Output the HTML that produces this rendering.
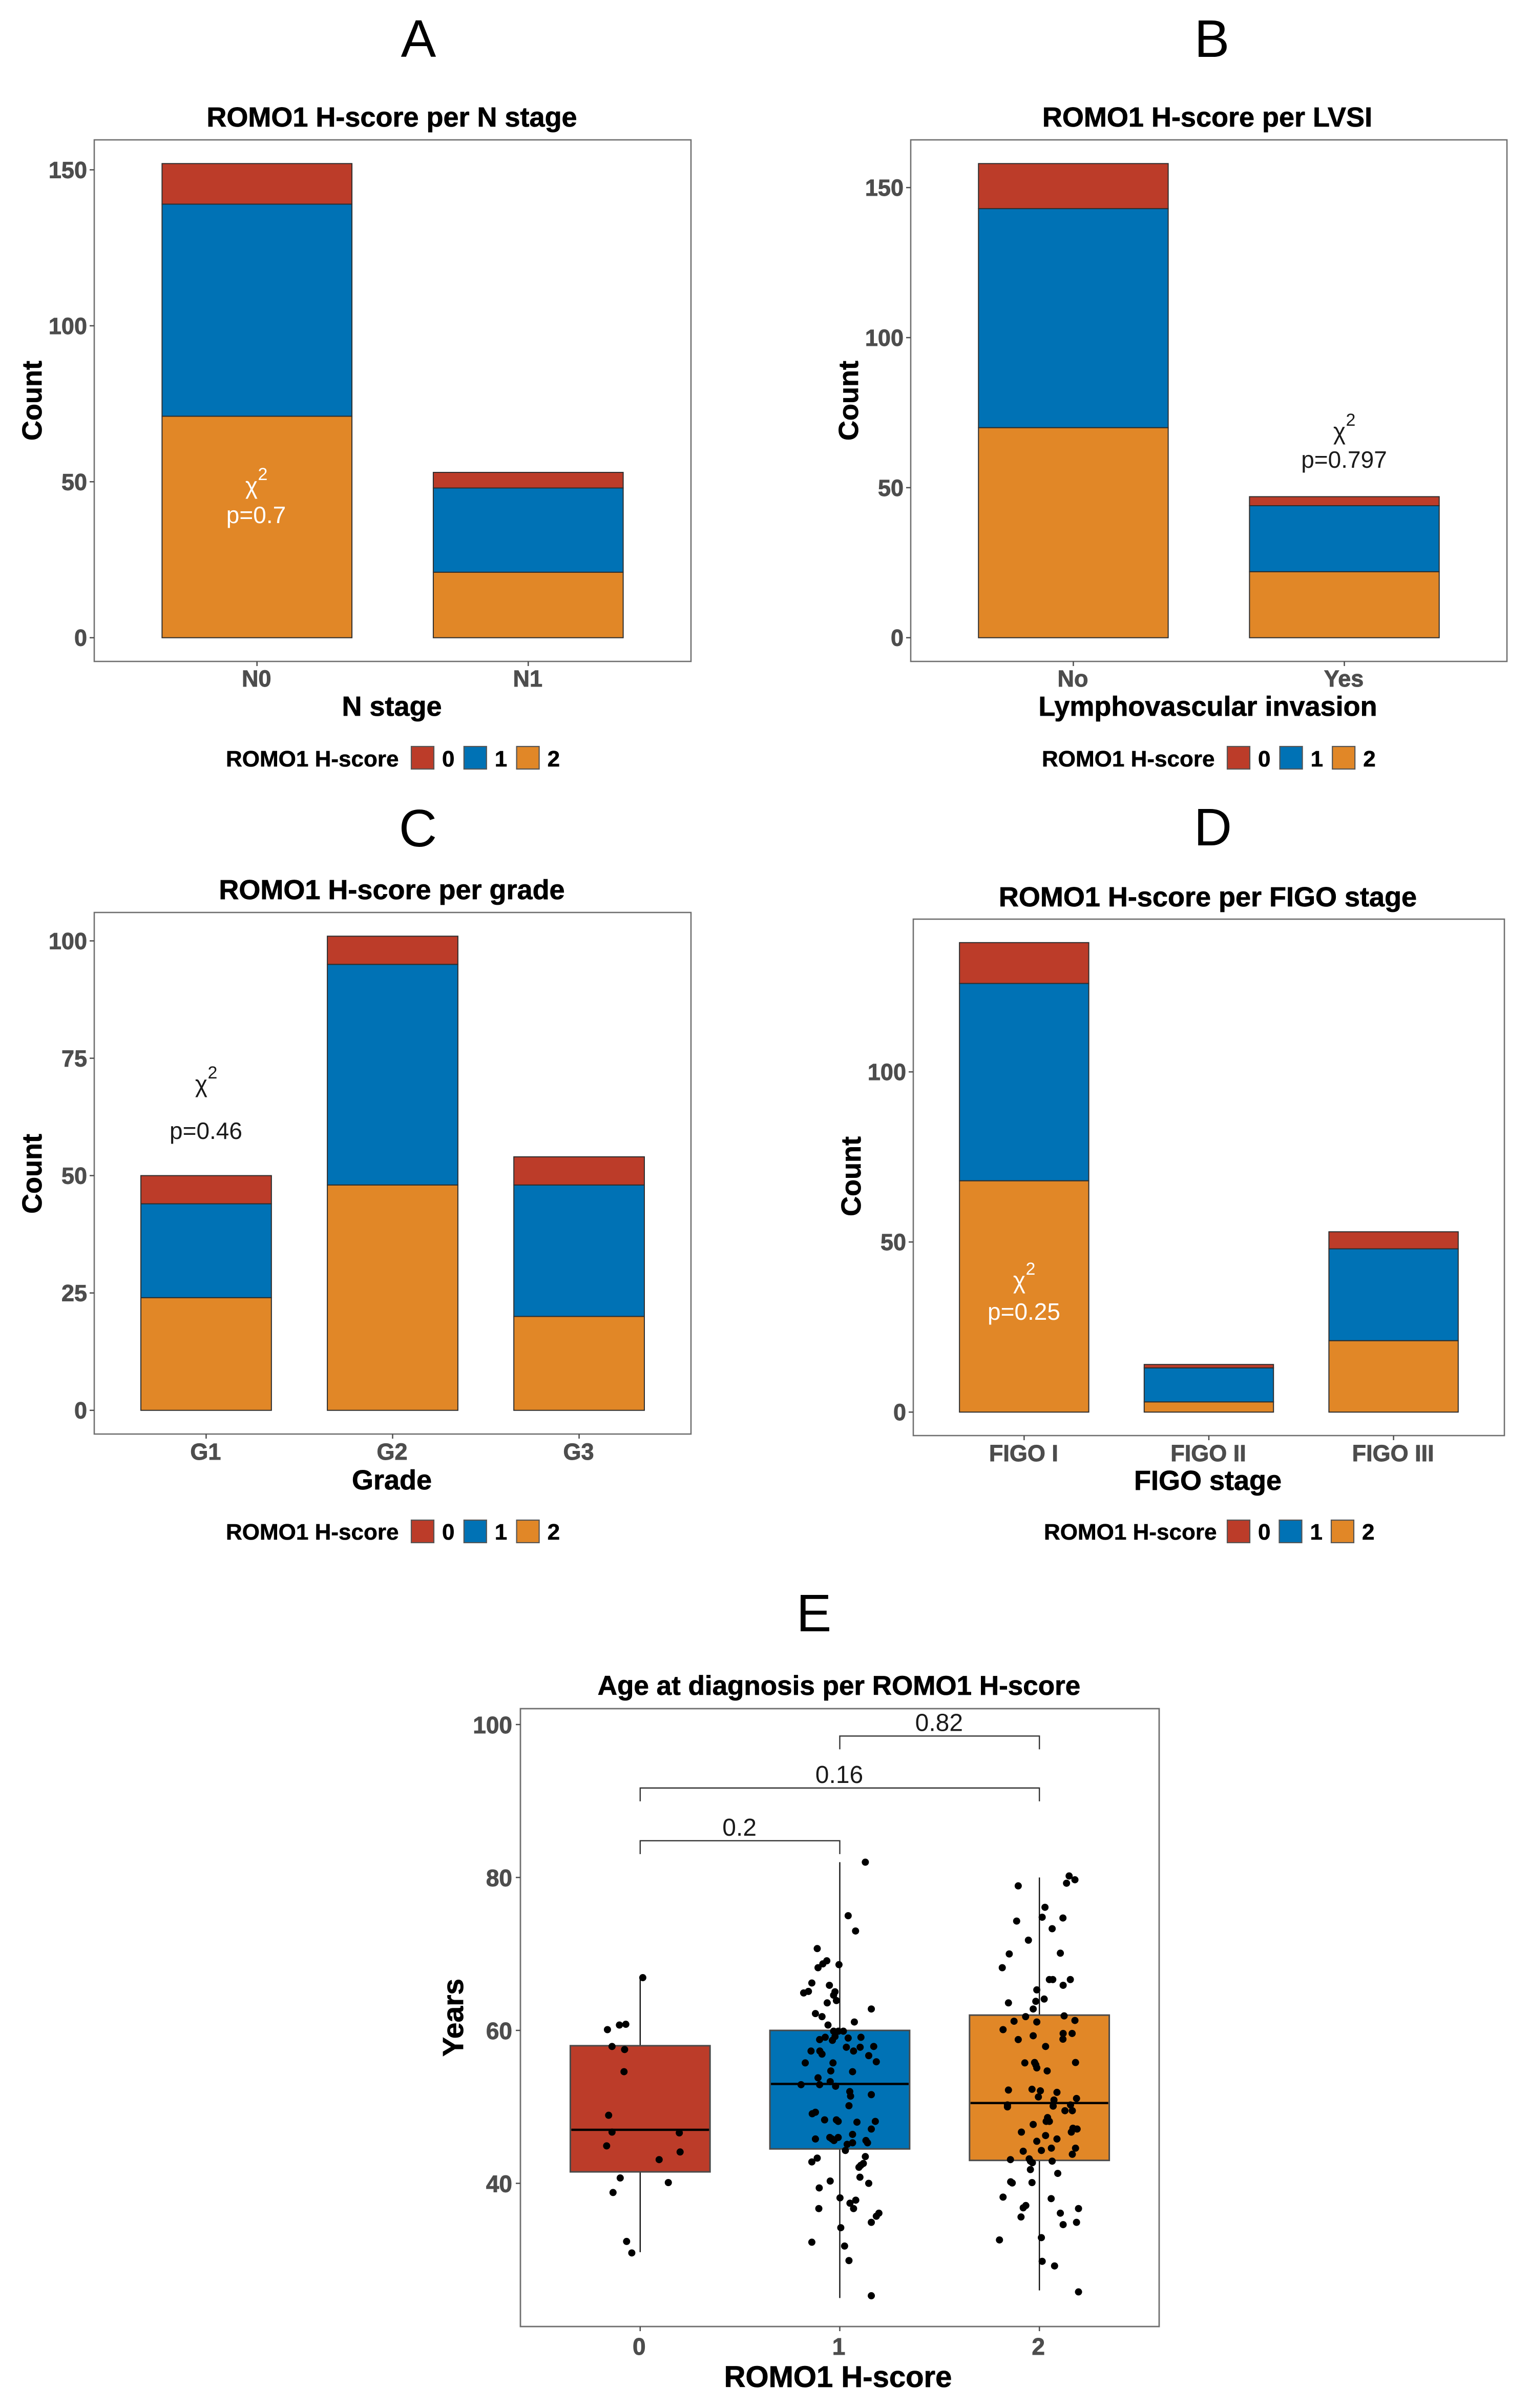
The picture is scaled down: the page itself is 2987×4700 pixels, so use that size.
<!DOCTYPE html>
<html lang="en">
<head>
<meta charset="utf-8">
<title>ROMO1 H-score panels</title>
<style>
html,body{margin:0;padding:0;background:#fff;}
svg{display:block;}
text{font-family:"Liberation Sans",Arial,sans-serif;}
.panel-letter{font-size:103px;fill:#000;text-anchor:middle;}
.panel-title{font-size:54px;font-weight:bold;fill:#000;text-anchor:middle;stroke:#000;stroke-width:.8px;}
.axis-title{font-size:54px;font-weight:bold;fill:#000;text-anchor:middle;stroke:#000;stroke-width:.8px;}
.tick-label{font-size:45px;font-weight:bold;fill:#4d4d4d;stroke:#4d4d4d;stroke-width:.9px;}
.legend-text{font-size:44px;font-weight:bold;fill:#000;stroke:#000;stroke-width:.6px;}
.note{font-size:46px;text-anchor:middle;}
.sup{font-size:34px;}
</style>
</head>
<body>
<svg id="figure" width="2987" height="4700" viewBox="0 0 2987 4700">
  <rect x="0" y="0" width="2987" height="4700" fill="#fff"/>

  <text class="panel-letter" x="817" y="111">A</text>
  <text class="panel-letter" x="2366" y="111">B</text>
  <text class="panel-letter" x="816" y="1652">C</text>
  <text class="panel-letter" x="2368" y="1650">D</text>
  <text class="panel-letter" x="1589" y="3184">E</text>

  <text class="panel-title" x="765" y="247">ROMO1 H-score per N stage</text>
  <text class="panel-title" x="2357" y="247">ROMO1 H-score per LVSI</text>
  <text class="panel-title" x="765" y="1755">ROMO1 H-score per grade</text>
  <text class="panel-title" x="2358" y="1769">ROMO1 H-score per FIGO stage</text>
  <text class="panel-title" style="font-size:53px" x="1638" y="3308">Age at diagnosis per ROMO1 H-score</text>

  <text class="axis-title" x="765" y="1397">N stage</text>
  <text class="axis-title" x="2358" y="1397">Lymphovascular invasion</text>
  <text class="axis-title" x="765" y="2907">Grade</text>
  <text class="axis-title" x="2358" y="2908">FIGO stage</text>
  <text class="axis-title" style="font-size:58px" x="1636" y="4659">ROMO1 H-score</text>

  <text class="axis-title" transform="translate(81 782) rotate(-90)">Count</text>
  <text class="axis-title" transform="translate(1675 782) rotate(-90)">Count</text>
  <text class="axis-title" transform="translate(81 2291) rotate(-90)">Count</text>
  <text class="axis-title" transform="translate(1680 2296) rotate(-90)">Count</text>
  <text class="axis-title" style="font-size:57px" transform="translate(904 3938) rotate(-90)">Years</text>
</svg>

<script>
// ---- Panel A data ----
const nStageCategories = ['N0', 'N1'];
const nStageScore2 = [71, 21];
const nStageScore1 = [68, 27];
const nStageScore0 = [13, 5];
const nStageTicks = [0, 50, 100, 150];

// ---- Panel B data ----
const lvsiCategories = ['No', 'Yes'];
const lvsiScore2 = [70, 22];
const lvsiScore1 = [73, 22];
const lvsiScore0 = [15, 3];
const lvsiTicks = [0, 50, 100, 150];

// ---- Panel C data ----
const gradeCategories = ['G1', 'G2', 'G3'];
const gradeScore2 = [24, 48, 20];
const gradeScore1 = [20, 47, 28];
const gradeScore0 = [6, 6, 6];
const gradeTicks = [0, 25, 50, 75, 100];

// ---- Panel D data ----
const figoCategories = ['FIGO I', 'FIGO II', 'FIGO III'];
const figoScore2 = [68, 3, 21];
const figoScore1 = [58, 10, 27];
const figoScore0 = [12, 1, 5];
const figoTicks = [0, 50, 100];

// ---- Panel E data ----
const scoreCategories = ['0', '1', '2'];
const ageTicks = [40, 60, 80, 100];
const boxLowerQuartile = [41.5, 44.5, 43];
const boxMedian = [47, 53, 50.5];
const boxUpperQuartile = [58, 60, 62];
const whiskerLow = [31, 25, 26];
const whiskerHigh = [67, 82, 80];
const bracketFrom = [0, 0, 1];
const bracketTo = [1, 2, 2];
const bracketAge = [84.8, 91.7, 98.5];
const bracketLabels = ['0.2', '0.16', '0.82'];

const agesScore0 = [66.9,60.1,60.7,60.8,57.9,57.5,54.6,48.9,46.7,46.6,44.9,44.1,43.1,40.7,40.1,38.8,32.4,30.9];
const jitterScore0 = [.013,-.164,-.104,-.072,-.141,-.078,-.081,-.158,-.141,.196,-.168,.2,.095,-.1,.141,-.136,-.068,-.042];

const agesScore1 = [82,75,73,70.7,69.1,68.7,68.2,68.6,66.2,65.9,65.1,64.9,65.05,64.6,63.9,63.6,62.8,62.2,61.8,61.1,60.7,59.9,59.9,59.9,59.2,58.7,58.8,59.1,59,59.1,57.8,57.8,57.9,57.3,57.3,57.3,56.9,56.7,55.75,55.75,55.9,54.7,54.6,53.8,53.3,52.9,52.9,52.7,52,51.6,51.4,50.15,49.3,49.1,48.3,48.3,48.1,48,48.1,47.1,46.4,45.8,46,46,45.8,45.6,45.6,45.3,45.3,45.1,44.3,43.5,43.3,42.8,42.6,42.35,42.1,40.8,40.3,40,39.4,38.1,37.8,37.4,36.7,36.7,36.1,35.7,34.9,34.2,32.3,31.8,29.9,25.3];
const jitterScore1 = [.128,.042,.079,-.113,-.065,-.085,-.109,-.004,-.14,-.052,-.157,-.181,-.024,-.031,-.017,-.063,.158,-.122,-.089,.073,-.059,-.031,-.007,.018,-.024,-.037,-.101,-.073,.042,.106,.033,.102,.17,.069,-.144,-.1,-.089,.145,-.173,-.034,.183,-.045,.064,-.109,-.048,-.194,-.101,-.021,.05,.158,.054,.046,-.122,-.138,-.076,-.017,-.008,.086,.178,.158,.064,-.122,-.05,-.008,-.039,-.029,.131,.139,.064,.037,.028,.128,-.113,-.14,.118,.105,.096,.101,-.048,.145,-.103,.001,.08,.051,-.105,.069,.196,.183,.158,.005,-.14,.024,.046,.158];

const agesScore2 = [80.2,79.7,79.25,78.9,76.1,74.8,74.7,74.3,73.3,71.8,70,70.1,68.2,66.65,66.65,66.65,65.9,65.3,64.1,63.8,63.6,62.8,61.8,61.9,61.2,61.3,61.1,60.1,59.6,59.6,59.3,58.8,58.85,57.9,55.75,55.8,55.8,55.5,55.1,54.7,52.2,52.3,52.1,51.9,51.3,51.1,50.9,50.25,50.1,50.25,50,49.5,49.5,48.6,48.1,48.1,47.7,47.2,47.1,46.7,46.7,46.25,45.8,45.5,44.6,44.3,44.6,44.2,43.8,43.1,43.2,42.9,42.9,42.7,41.8,41.3,40.2,40.05,40.1,38.2,38,37.1,36.8,36.7,36.1,35.6,34.9,34.6,32.6,32.9,29.8,29.2,25.8];
const jitterScore2 = [.149,.178,.136,-.106,.028,.014,.118,-.114,.064,-.055,-.151,.105,-.186,.05,.067,.155,.119,-.013,.024,-.018,-.155,-.031,-.069,.124,-.127,.178,-.013,-.182,.119,.164,-.031,-.106,.118,.031,-.073,-.024,.181,-.018,-.013,.039,-.155,-.037,.005,.088,-.005,.186,.073,-.16,.069,.156,-.16,.128,.165,.041,.034,.05,-.031,.168,.189,.16,-.09,.031,.088,-.013,.06,.01,.181,-.081,.165,-.145,-.051,-.045,.064,-.035,-.045,.092,-.144,-.136,-.037,-.182,.059,-.068,-.081,.196,.105,-.092,.186,.119,-.2,.01,.014,.076,.196];

const scoreColors = ['#BC3C29', '#0072B5', '#E18727'];

const svg = document.getElementById('figure');
const svgNamespace = svg.namespaceURI;

function add(parent, tag, attrs, text) {
  const node = document.createElementNS(svgNamespace, tag);
  for (const key in attrs) node.setAttribute(key, attrs[key]);
  if (text !== undefined) node.textContent = text;
  parent.appendChild(node);
  return node;
}

function drawBarPanel(cfg) {
  const group = add(svg, 'g', {});
  
  

  const f = cfg.frame;
  const n = cfg.categories.length;
  const unit = (f.right - f.left) / (n + 0.2);
  const xPos = i => f.left + (i + 0.6) * unit;
  const yPos = v => f.bottom - (v + 0.05 * cfg.yMax) / (1.1 * cfg.yMax) * (f.bottom - f.top);

  const frame = add(group, 'rect', { x: f.left, y: f.top, width: f.right - f.left, height: f.bottom - f.top, fill: '#fff', stroke: '#6f6f6f', 'stroke-width': 2.6 });
  
  

  cfg.ticks.forEach(value => {
    const tick = add(group, 'line', { x1: f.left - 9, x2: f.left, y1: yPos(value), y2: yPos(value), stroke: '#4d4d4d', 'stroke-width': 2.5 });
    
    
    const label = add(group, 'text', { class: 'tick-label', x: f.left - 14, y: yPos(value) + 16, 'text-anchor': 'end' }, String(value));
    
    
  });

  cfg.categories.forEach((category, i) => {
    const tick = add(group, 'line', { x1: xPos(i), x2: xPos(i), y1: f.bottom, y2: f.bottom + 9, stroke: '#4d4d4d', 'stroke-width': 2.5 });
    
    
    const label = add(group, 'text', { class: 'tick-label', x: xPos(i) - 1, y: cfg.xLabelY, 'text-anchor': 'middle' }, category);
    
    

    const stack = [[cfg.score2[i], scoreColors[2]], [cfg.score1[i], scoreColors[1]], [cfg.score0[i], scoreColors[0]]];
    let base = 0;
    stack.forEach(([count, color]) => {
      const bar = add(group, 'rect', {
        x: xPos(i) - 0.35 * unit, width: 0.7 * unit,
        y: yPos(base + count), height: yPos(base) - yPos(base + count),
        fill: color, stroke: '#2e2e2e', 'stroke-width': 2
      });
      
      
      base += count;
    });
  });

  const note = cfg.note;
  const chi = add(group, 'text', { class: 'note', x: note.x - 9, y: note.chiY, fill: note.color }, '\u03C7');
  
  
  const sup = add(group, 'text', { class: 'note sup', x: note.x + 13, y: note.chiY - 27, fill: note.color }, '2');
  
  
  const pValue = add(group, 'text', { class: 'note', x: note.x, y: note.pY, fill: note.color }, note.text);
  
  

  const lg = cfg.legend;
  const legendTitle = add(group, 'text', { class: 'legend-text', x: lg.titleX, y: lg.textY }, 'ROMO1 H-score');
  
  
  scoreColors.forEach((color, i) => {
    const key = add(group, 'rect', { x: lg.keyX + i * lg.step, y: lg.keyY, width: 44, height: 44, fill: color, stroke: '#555', 'stroke-width': 2.2 });
    
    
    const label = add(group, 'text', { class: 'legend-text', x: lg.keyX + i * lg.step + 60, y: lg.textY }, String(i));
    
    
  });
}

drawBarPanel({
  id: 'panel-a', categories: nStageCategories, score2: nStageScore2, score1: nStageScore1, score0: nStageScore0,
  ticks: nStageTicks, yMax: 152, xLabelY: 1340,
  frame: { left: 184, right: 1349, top: 273, bottom: 1291 },
  note: { x: 500, chiY: 964, pY: 1021, text: 'p=0.7', color: '#fff' },
  legend: { titleX: 441, textY: 1496, keyX: 803, keyY: 1457, step: 102.8 }
});
drawBarPanel({
  id: 'panel-b', categories: lvsiCategories, score2: lvsiScore2, score1: lvsiScore1, score0: lvsiScore0,
  ticks: lvsiTicks, yMax: 158, xLabelY: 1340,
  frame: { left: 1778, right: 2942, top: 273, bottom: 1291 },
  note: { x: 2624, chiY: 858, pY: 913, text: 'p=0.797', color: '#1a1a1a' },
  legend: { titleX: 2034, textY: 1496, keyX: 2396, keyY: 1457, step: 102.6 }
});
drawBarPanel({
  id: 'panel-c', categories: gradeCategories, score2: gradeScore2, score1: gradeScore1, score0: gradeScore0,
  ticks: gradeTicks, yMax: 101, xLabelY: 2849,
  frame: { left: 184, right: 1349, top: 1781, bottom: 2799 },
  note: { x: 402, chiY: 2132, pY: 2223, text: 'p=0.46', color: '#1a1a1a' },
  legend: { titleX: 441, textY: 3005, keyX: 803, keyY: 2967, step: 102.8 }
});
drawBarPanel({
  id: 'panel-d', categories: figoCategories, score2: figoScore2, score1: figoScore1, score0: figoScore0,
  ticks: figoTicks, yMax: 138, xLabelY: 2852,
  frame: { left: 1783, right: 2937, top: 1794, bottom: 2802 },
  note: { x: 1999, chiY: 2515, pY: 2576, text: 'p=0.25', color: '#fff' },
  legend: { titleX: 2038, textY: 3005, keyX: 2396, keyY: 2967, step: 101.5 }
});

// ---- Panel E: box plot with jittered points ----
(function drawBoxPanel() {
  const group = add(svg, 'g', {});
  
  

  const f = { left: 1016, right: 2263, top: 3335, bottom: 4541 };
  const unit = (f.right - f.left) / 3.2;
  const xPos = c => f.left + (c + 0.6) * unit;
  const yPos = age => 4261.5 - (age - 40) * 14.925;

  const frame = add(group, 'rect', { x: f.left, y: f.top, width: f.right - f.left, height: f.bottom - f.top, fill: '#fff', stroke: '#6f6f6f', 'stroke-width': 2.8 });
  
  

  ageTicks.forEach(age => {
    const tick = add(group, 'line', { x1: f.left - 9, x2: f.left, y1: yPos(age), y2: yPos(age), stroke: '#4d4d4d', 'stroke-width': 2.5 });
    
    
    const label = add(group, 'text', { class: 'tick-label', style: 'font-size:46px', x: f.left - 16, y: yPos(age) + 17, 'text-anchor': 'end' }, String(age));
    
    
  });

  scoreCategories.forEach((category, i) => {
    const tick = add(group, 'line', { x1: xPos(i), x2: xPos(i), y1: f.bottom, y2: f.bottom + 9, stroke: '#4d4d4d', 'stroke-width': 2.5 });
    
    
    const label = add(group, 'text', { class: 'tick-label', style: 'font-size:46px', x: xPos(i) - 2, y: 4596, 'text-anchor': 'middle' }, category);
    
    

    const whisker = add(group, 'line', { x1: xPos(i), x2: xPos(i), y1: yPos(whiskerLow[i]), y2: yPos(whiskerHigh[i]), stroke: '#111', 'stroke-width': 2.4 });
    
    

    const box = add(group, 'rect', {
      x: xPos(i) - 0.35 * unit, width: 0.7 * unit,
      y: yPos(boxUpperQuartile[i]), height: yPos(boxLowerQuartile[i]) - yPos(boxUpperQuartile[i]),
      fill: scoreColors[i], stroke: '#4a4a4a', 'stroke-width': 3
    });
    
    

    const median = add(group, 'line', { x1: xPos(i) - 0.345 * unit, x2: xPos(i) + 0.345 * unit, y1: yPos(boxMedian[i]), y2: yPos(boxMedian[i]), stroke: '#000', 'stroke-width': 4.5 });
    
    
  });

  const ageSeries = [agesScore0, agesScore1, agesScore2];
  const jitterSeries = [jitterScore0, jitterScore1, jitterScore2];
  ageSeries.forEach((ages, c) => {
    ages.forEach((age, j) => {
      const dot = add(group, 'circle', { cx: xPos(c + jitterSeries[c][j]), cy: yPos(age), r: 7, fill: '#000' });
      
      
    });
  });

  bracketLabels.forEach((label, b) => {
    const x1 = xPos(bracketFrom[b]);
    const x2 = xPos(bracketTo[b]);
    const y = yPos(bracketAge[b]);
    const bracket = add(group, 'path', { d: `M${x1} ${y + 26}V${y}H${x2}V${y + 26}`, fill: 'none', stroke: '#333', 'stroke-width': 2.4 });
    
    
    const text = add(group, 'text', { class: 'note', style: 'font-size:48px', x: (x1 + x2) / 2 - 1, y: y - 10, fill: '#1a1a1a' }, label);
    
    
  });
})();
</script>
</body>
</html>
